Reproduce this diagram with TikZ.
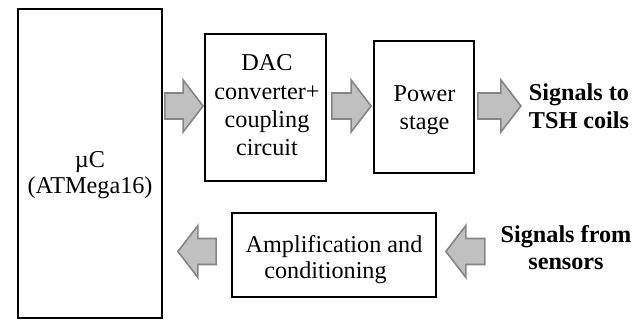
\documentclass[tikz,border=0pt]{standalone}
\usepackage{fontspec}
\setmainfont{Liberation Serif}
\usetikzlibrary{calc}
\definecolor{arrfill}{HTML}{C0C0C0}
\definecolor{arrdraw}{HTML}{858585}
\newcommand{\blockarrow}[2]{%
  \draw[blockarr] let \p1=(#1), \p2=(#2), \n1={sign(\x2-\x1)} in
   (\x1,\y1+13pt) -- (\x2-\n1*20pt,\y1+13pt) -- (\x2-\n1*20pt,\y1+26pt)
   -- (\x2,\y1) -- (\x2-\n1*20pt,\y1-26pt) -- (\x2-\n1*20pt,\y1-13pt)
   -- (\x1,\y1-13pt) -- cycle;}
\begin{document}
\begin{tikzpicture}[x=1pt,y=-1pt,
  box/.style={draw=black,line width=1.8pt,rectangle,inner sep=0pt},
  lbl/.style={font=\fontsize{24.2}{28.3}\selectfont,align=center,inner sep=0pt},
  blbl/.style={font=\fontsize{24.2}{28}\selectfont\bfseries,align=center,inner sep=0pt},
  blockarr/.style={draw=arrdraw,fill=arrfill,line width=1.6pt,line join=miter}]
\useasboundingbox (0,0) rectangle (643,321);
% boxes
\node[box,minimum width=144pt,minimum height=309pt] (uc) at (90,163.5) {};
\node[box,minimum width=121pt,minimum height=147pt] (dac) at (265.5,107.5) {};
\node[box,minimum width=100pt,minimum height=132pt] (power) at (424,107) {};
\node[box,minimum width=204pt,minimum height=84pt] (amp) at (334,255) {};
% box texts
\node[lbl,font=\fontsize{24.2}{26}\selectfont] (uctext) at (90,175) {µC\\(ATMega16)};
\node[lbl] (dactext) at (267,105.5) {DAC\\converter+\\coupling\\circuit};
\node[lbl] (powertext) at (424.5,110.5) {Power\\stage};
\node[lbl,font=\fontsize{24.2}{26}\selectfont] (amptext) at (334,259.5)
  {Amplification and\\conditioning\hspace*{17pt}};
% outside texts
\node[blbl] (tsh) at (579,105.8) {Signals to\\TSH coils};
\node[blbl,font=\fontsize{24.2}{27}\selectfont\bfseries] (sens) at (566,248) {Signals from\\sensors};
% arrow end points
\coordinate (a1s) at ($(uc.east |- dac.west)+(2,-1.5)$);
\coordinate (a1e) at ($(dac.west)+(-1,-1.5)$);
\coordinate (a2s) at ($(dac.east)+(5,-1.5)$);
\coordinate (a2e) at ($(power.west |- dac.east)+(-2,-1.5)$);
\coordinate (a3s) at ($(power.east |- dac.east)+(3,-1.5)$);
\coordinate (a3e) at ($(power.east |- dac.east)+(46,-1.5)$);
\coordinate (a4s) at ($(amp.east)+(48,-3.5)$);
\coordinate (a4e) at ($(amp.east)+(9,-3.5)$);
\coordinate (a5s) at ($(amp.west)+(-15,-3.5)$);
\coordinate (a5e) at ($(uc.east |- amp.west)+(15,-3.5)$);
\blockarrow{a1s}{a1e}
\blockarrow{a2s}{a2e}
\blockarrow{a3s}{a3e}
\blockarrow{a4s}{a4e}
\blockarrow{a5s}{a5e}
\end{tikzpicture}
\end{document}
